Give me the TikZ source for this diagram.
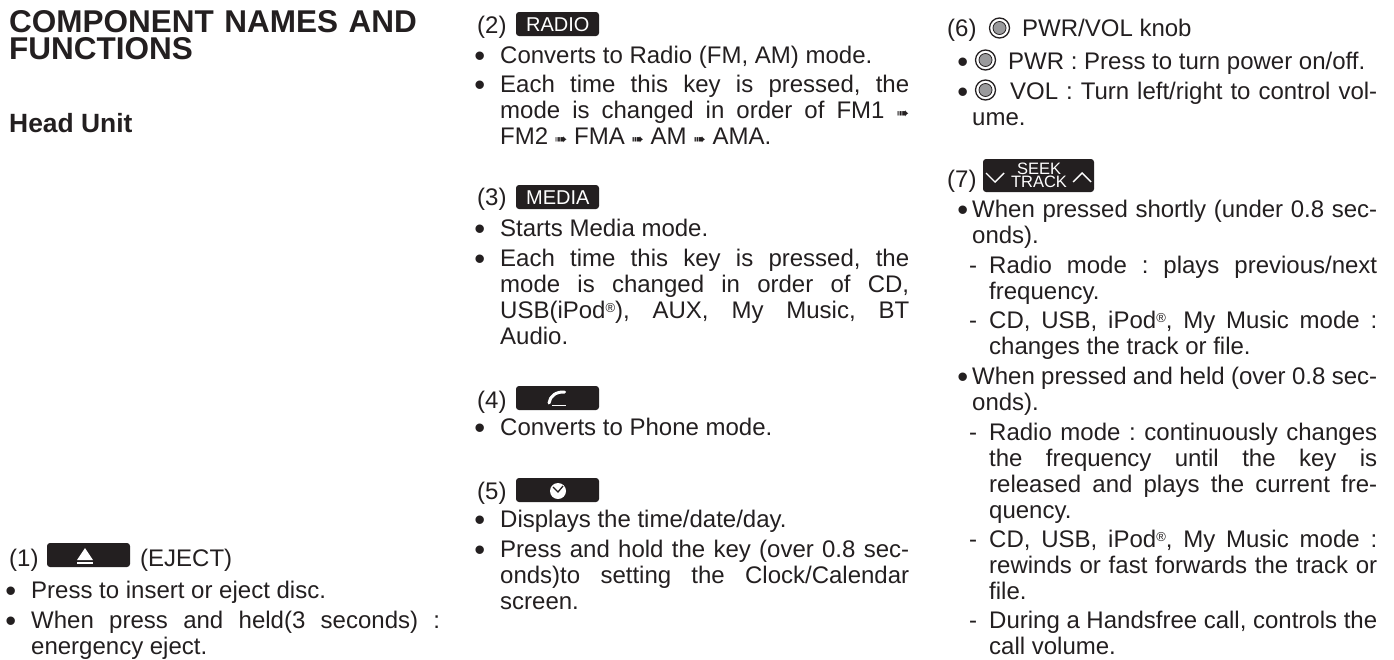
\documentclass[tikz,border=0pt]{standalone}
\usepackage{fontspec}
\usepackage{xcolor}
\usepackage{tikz}
\usetikzlibrary{positioning}
\setmainfont{Liberation Sans}
\newfontfamily\symfont{DejaVu Sans}
\definecolor{ink}{HTML}{231F20}
\definecolor{knobgrey}{HTML}{9A9A9C}
\newcommand{\bul}[1][15pt]{\llap{\raisebox{-3pt}{\fontsize{31}{31}\selectfont\textbullet}\hspace{#1}}}
\newcommand{\dsh}{\llap{-\hspace{12pt}}}
\newcommand{\regmark}{\raisebox{6pt}{\fontsize{13}{13}\selectfont ®}}
\newcommand{\nxt}{{\symfont\fontsize{15}{15}\selectfont ➠}}
\tolerance=9999 \hyphenpenalty=10000
\frenchspacing

\begin{document}
\begin{tikzpicture}[x=1pt, y=-1pt, font=\fontsize{24}{26}\selectfont, text=ink]
    % Define the style for the nodes
    \tikzstyle{plain} = [inner sep=0pt, anchor=base west]
    \tikzstyle{para} = [plain, align=justify, text width=409pt]
    \tikzstyle{subpara} = [plain, align=justify, text width=388pt]
    \tikzstyle{key} = [fill=ink, rounded corners=3pt, minimum width=83pt, minimum height=24pt, inner sep=0pt, text=white, font=\fontsize{20}{20}\selectfont]
    \tikzstyle{knob} = [circle, draw=ink, line width=1.3pt, fill=white, minimum size=20pt, inner sep=0pt]
    \tikzstyle{core} = [circle, draw=ink, line width=0.8pt, fill=knobgrey, minimum size=13pt, inner sep=0pt]
    \tikzstyle{glyph} = [draw=white, line width=1.4pt]
    \useasboundingbox (0,0) rectangle (1394,659);

    % Left column
    \node [plain, text width=440pt, font=\bfseries\fontsize{31.5}{27.5}\selectfont] (title) at (9,32) {COMPONENT NAMES AND\\FUNCTIONS};
    \node [plain, font=\bfseries\fontsize{26.4}{26}\selectfont] (head) at (9,132) {Head Unit};

    \node [plain] (numa) at (9,566) {(1)};
    \node [key] (keyeject) at (88.5,555) {};
    \fill [white] (77,560) -- (85,548) -- (93,560) -- cycle;
    \fill [white] (77,562) rectangle (93,563.5);
    \node [plain] (ejectname) at (140,566) {(EJECT)};
    \node [para] (ejecta) at (31,598) {\bul Press to insert or eject disc.};
    \node [para] (ejectb) at (31,628) {\bul When press and held(3 seconds) :\linebreak energency eject.};

    % Middle column
    \node [plain] (numb) at (477,33) {(2)};
    \node [key] (keyradio) at (557.5,24) {};
    \node [plain, text=white, font=\fontsize{20}{20}\selectfont] (radioname) at (526,31) {RADIO};
    \node [para] (radioa) at (500,63) {\bul Converts to Radio (FM, AM) mode.};
    \node [para] (radiob) at (500,92) {\bul Each time this key is pressed, the\linebreak mode is changed in order of FM1 \nxt\linebreak FM2 \nxt\ FMA \nxt\ AM \nxt\ AMA.};

    \node [plain] (numc) at (477,205) {(3)};
    \node [key] (keymedia) at (557.5,197) {};
    \node [plain, text=white, font=\fontsize{20}{20}\selectfont] (medianame) at (526,204) {MEDIA};
    \node [para] (mediaa) at (500,236) {\bul Starts Media mode.};
    \node [para] (mediab) at (500,266) {\bul Each time this key is pressed, the\linebreak mode is changed in order of CD,\linebreak USB(iPod\regmark), AUX, My Music, BT\linebreak Audio.};

    \node [plain] (numd) at (477,408) {(4)};
    \node [key] (keyphone) at (557.5,398) {};
    \draw [glyph, line width=3pt, line cap=round] (549,403) .. controls (550,396) and (556,391.5) .. (564.5,392);
    \draw [glyph, line width=1.6pt] (552,405.5) -- (566,405.5);
    \node [para] (phonea) at (500,435) {\bul Converts to Phone mode.};

    \node [plain] (nume) at (477,499) {(5)};
    \node [key] (keyclock) at (557.5,490) {};
    \fill [white] (558,491) circle (8pt);
    \draw [ink, line width=1.3pt] (553,487) -- (558,492) -- (563,486);
    \node [para] (clocka) at (500,527) {\bul Displays the time/date/day.};
    \node [para] (clockb) at (500,557) {\bul Press and hold the key (over 0.8 sec-\linebreak onds)to setting the Clock/Calendar\linebreak screen.};

    % Right column
    \node [plain] (numf) at (947,36) {(6)};
    \node [knob] (knobtop) at (999.5,28) {};
    \node [core] at (knobtop) {};
    \node [plain] (knobname) at (1022,36) {PWR/VOL knob};
    \node [knob] (knobpwr) at (985.5,60) {};
    \node [core] at (knobpwr) {};
    \node [para, text width=405pt] (pwra) at (972,69) {\bul[4pt]\hspace*{36pt}PWR : Press to turn power on/off.};
    \node [knob] (knobvol) at (985.5,90) {};
    \node [core] at (knobvol) {};
    \node [para, text width=405pt] (vola) at (972,99) {\bul[4pt]\hspace*{38pt}VOL : Turn left/right to control vol-\linebreak ume.};

    \node [plain] (numg) at (947,187) {(7)};
    \node [key, minimum width=111pt, minimum height=33pt] (keyseek) at (1038.5,175.5) {};
    \node [inner sep=0pt, text=white, font=\fontsize{16.5}{16.5}\selectfont, anchor=base] (seekname) at (1039,174) {SEEK};
    \node [inner sep=0pt, text=white, font=\fontsize{16.5}{16.5}\selectfont, anchor=base] (trackname) at (1039,187) {TRACK};
    \draw [glyph] (986,173) -- (995,182) -- (1004,173);
    \draw [glyph] (1073,182) -- (1082,173) -- (1091,182);

    \node [para, text width=405pt] (seeka) at (972,217) {\bul[4pt]When pressed shortly (under 0.8 sec-\linebreak onds).};
    \node [subpara] (seekb) at (989,273) {\dsh Radio mode : plays previous/next\linebreak frequency.};
    \node [subpara] (seekc) at (989,328) {\dsh CD, USB, iPod\regmark, My Music mode :\linebreak changes the track or file.};
    \node [para, text width=405pt] (seekd) at (972,384) {\bul[4pt]When pressed and held (over 0.8 sec-\linebreak onds).};
    \node [subpara] (seeke) at (989,440) {\dsh Radio mode : continuously changes\linebreak the frequency until the key is\linebreak released and plays the current fre-\linebreak quency.};
    \node [subpara] (seekf) at (989,547) {\dsh CD, USB, iPod\regmark, My Music mode :\linebreak rewinds or fast forwards the track or\linebreak file.};
    \node [subpara] (seekg) at (989,628) {\dsh During a Handsfree call, controls the\linebreak call volume.};

\end{tikzpicture}
\end{document}
